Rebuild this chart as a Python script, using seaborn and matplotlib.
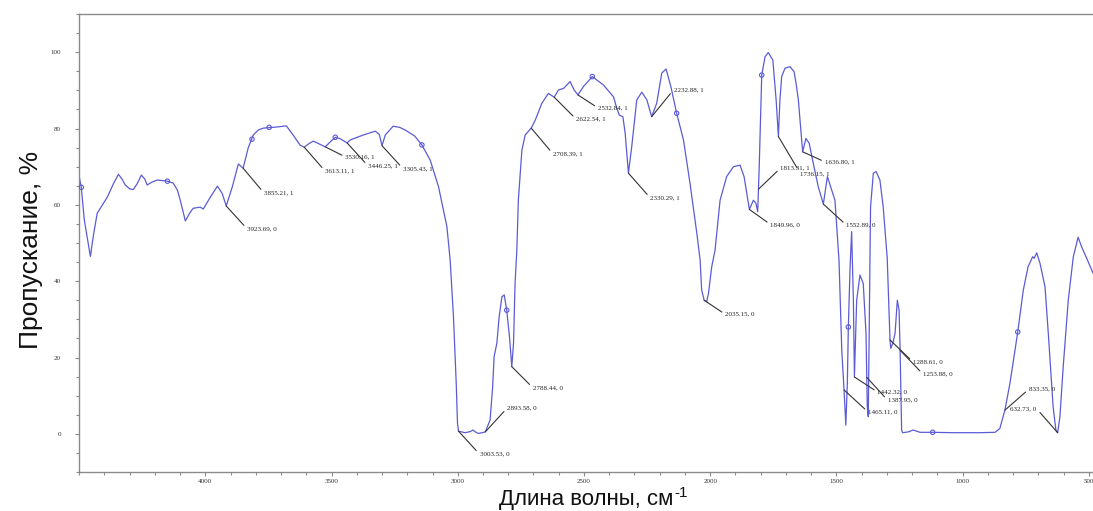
import matplotlib
matplotlib.use("Agg")
import matplotlib.pyplot as plt
import seaborn as sns
import pandas as pd
from matplotlib.ticker import MultipleLocator

# IR spectrum, wavenumber (cm-1) vs transmittance (%)
WAVENUMBER = [
    4499, 4491, 4479, 4455, 4443, 4428, 4388, 4364, 4344, 4330, 4317, 4300,
    4285, 4270, 4253, 4240, 4230, 4210, 4190, 4150, 4127, 4110, 4099, 4079,
    4062, 4048, 4020, 4008, 3980, 3952, 3933, 3917, 3893, 3869, 3850, 3830,
    3810, 3790, 3770, 3715, 3679, 3652, 3624, 3608, 3590, 3572, 3550, 3525,
    3500, 3485, 3465, 3438, 3426, 3374, 3327, 3311, 3300, 3287, 3256, 3230,
    3208, 3170, 3142, 3109, 3076, 3043, 3030, 3017, 3006, 3001, 2997, 2971,
    2950, 2940, 2930, 2918, 2891, 2872, 2862, 2856, 2845, 2836, 2825, 2816,
    2806, 2795, 2786, 2779, 2773, 2766, 2760, 2746, 2733, 2709, 2693, 2667,
    2641, 2618, 2601, 2581, 2555, 2539, 2524, 2502, 2467, 2423, 2383, 2370,
    2360, 2346, 2337, 2324, 2311, 2291, 2271, 2251, 2232, 2212, 2192, 2175,
    2156, 2133, 2106, 2080, 2053, 2040, 2034, 2024, 2014, 2007, 1994, 1981,
    1961, 1935, 1908, 1882, 1866, 1845, 1829, 1819, 1812, 1806, 1796, 1783,
    1770, 1752, 1739, 1730, 1724, 1717, 1704, 1684, 1668, 1660, 1651, 1638,
    1634, 1621, 1608, 1592, 1572, 1552, 1536, 1519, 1506, 1497, 1490, 1479,
    1470, 1463, 1457, 1453, 1446, 1440, 1433, 1429, 1420, 1407, 1394, 1383,
    1378, 1374, 1370, 1367, 1365, 1354, 1343, 1328, 1315, 1299, 1288, 1285,
    1277, 1268, 1259, 1252, 1248, 1242, 1238, 1216, 1196, 1169, 1119, 1037,
    932, 872, 853, 833, 813, 782, 760, 741, 723, 717, 707, 694,
    674, 661, 642, 631, 624, 615, 602, 582, 562, 543, 529, 509,
    484,
]
TRANSMITTANCE = [
    67.3, 64.6, 56.0, 46.5, 52.0, 57.8, 62.0, 65.5, 68.0, 66.8, 65.2, 64.2,
    64.0, 65.5, 67.8, 66.8, 65.2, 66.0, 66.5, 66.2, 65.7, 63.8, 61.2, 55.8,
    57.8, 59.1, 59.4, 58.9, 62.0, 64.9, 63.0, 59.7, 64.7, 70.7, 69.6, 74.9,
    78.3, 79.6, 80.1, 80.4, 80.7, 78.3, 75.6, 75.1, 76.0, 76.7, 76.0, 75.2,
    76.8, 77.7, 77.3, 76.2, 77.0, 78.3, 79.3, 78.5, 75.5, 78.3, 80.6, 80.3,
    79.6, 78.0, 75.7, 71.7, 64.7, 54.3, 45.5, 30.7, 13.2, 2.7, 0.7, 0.3,
    0.6, 1.0, 0.5, 0.1, 0.5, 3.6, 12.0, 20.2, 23.8, 30.7, 35.9, 36.4,
    32.4, 25.4, 17.6, 23.8, 39.5, 48.1, 61.2, 74.3, 78.3, 80.1, 82.2, 86.6,
    89.2, 88.2, 90.1, 90.5, 92.3, 90.1, 88.8, 91.0, 93.6, 91.4, 88.3, 85.3,
    83.5, 83.1, 78.8, 68.3, 75.2, 87.5, 89.5, 87.5, 83.1, 86.6, 94.5, 95.6,
    91.0, 84.0, 77.0, 65.6, 52.5, 45.5, 37.7, 35.0, 34.6, 36.8, 43.8, 48.1,
    61.2, 67.4, 70.0, 70.4, 67.4, 58.8, 61.2, 60.4, 58.2, 70.0, 94.0, 98.8,
    99.9, 97.9, 87.5, 77.9, 87.5, 93.6, 95.8, 96.2, 94.9, 91.8, 87.5, 77.0,
    73.9, 77.4, 76.1, 70.9, 64.7, 60.2, 67.4, 63.9, 61.2, 52.5, 45.5, 21.9,
    11.5, 2.3, 13.2, 28.0, 43.8, 53.0, 35.0, 14.9, 35.0, 41.6, 39.4, 26.3,
    7.1, 4.5, 30.7, 48.1, 59.5, 68.3, 68.7, 66.5, 59.5, 46.0, 24.6, 22.4,
    23.7, 26.3, 35.0, 32.4, 21.9, 1.0, 0.3, 0.5, 1.0, 0.4, 0.4, 0.3,
    0.3, 0.4, 1.4, 6.2, 13.2, 26.7, 37.7, 43.8, 46.4, 46.0, 47.4, 44.7,
    38.5, 26.3, 7.1, 1.0, 0.3, 4.5, 17.6, 35.0, 46.4, 51.5, 49.0, 46.0,
    42.1,
]

# small open circles placed by the instrument software
MARK_WN = [4491, 4150, 3815, 3747, 3485, 3142, 2806, 2467, 2133, 1796, 1453, 1119, 782]
MARK_T = [64.6, 66.2, 77.2, 80.3, 77.7, 75.7, 32.4, 93.6, 84.0, 94.0, 28.0, 0.4, 26.7]

# peak labels: text, anchor wn, anchor T, text offset (px)
PEAK_TEXT = ["3923.69, 0", "3855.21, 1", "3613.11, 1", "3530.16, 1", "3446.25, 1",
             "3305.43, 1", "3003.53, 0", "2893.58, 0", "2788.44, 0", "2708.39, 1",
             "2622.54, 1", "2532.84, 1", "2330.29, 1", "2232.88, 1", "2035.15, 0",
             "1849.96, 0", "1813.31, 1", "1736.15, 1", "1636.80, 1", "1552.89, 0",
             "1465.11, 0", "1442.32, 0", "1387.95, 0", "1288.61, 0", "1253.88, 0",
             "833.35, 0", "632.73, 0"]
PEAK_WN = [3917, 3850, 3608, 3525, 3438, 3300, 2997, 2891, 2786, 2709,
           2618, 2524, 2324, 2232, 2024, 1845, 1809, 1730, 1634, 1552,
           1470, 1429, 1380, 1288, 1248, 833, 624]
PEAK_T = [59.7, 69.6, 75.1, 75.2, 76.2, 75.5, 0.7, 0.5, 17.6, 80.1,
          88.2, 88.8, 68.3, 83.1, 35.0, 58.8, 64.1, 77.9, 73.9, 60.2,
          11.5, 14.9, 14.8, 24.6, 21.9, 6.2, 0.3]
PEAK_DX = [21, 21, 21, 20, 21, 21, 21, 22, 21, 22, 22, 20, 22, 22, 21,
           21, 22, 22, 22, 23, 24, 23, 21, 23, 23, 24, -21]
PEAK_DY = [-23, -25, -24, -10, -23, -23, -23, 24, -21, -26, -22, -13, -25, 27, -14,
           -15, 21, -37, -10, -21, -22, -15, -23, -22, -24, 21, 24]

X_TICKS = [4000, 3500, 3000, 2500, 2000, 1500, 1000, 500]
Y_TICKS = [0, 20, 40, 60, 80, 100]

LINE_COLOR = "#5b5bd6"

df = pd.DataFrame({"wn": WAVENUMBER, "T": TRANSMITTANCE})

sns.set_style("ticks")
plt.rcParams["font.family"] = ["Liberation Sans", "DejaVu Sans"]

fig = plt.figure(figsize=(10.93, 5.11), dpi=100)
ax = fig.add_axes([0.0723, 0.0763, 0.9277, 0.8963])

sns.lineplot(data=df, x="wn", y="T", sort=False, estimator=None,
             color=LINE_COLOR, lw=0.9, ax=ax)
ax.scatter(MARK_WN, MARK_T, s=10, facecolors="none", edgecolors=LINE_COLOR,
           linewidths=0.8, zorder=3)

for txt, wx, ty, dx, dy in zip(PEAK_TEXT, PEAK_WN, PEAK_T, PEAK_DX, PEAK_DY):
    ha = "left" if dx > 0 else "right"
    ax.annotate(txt, xy=(wx, ty), xytext=(dx, dy), textcoords="offset pixels",
                ha=ha, va="center", fontsize=5, family="Liberation Serif",
                color="#222222",
                arrowprops=dict(arrowstyle="-", color="#333333", lw=0.8,
                                shrinkA=0, shrinkB=0,
                                relpos=(0, 0.5) if dx > 0 else (1, 0.5)))

ax.set_xlim(4500, 484)
ax.set_ylim(-10, 110)
ax.set_xticks(X_TICKS)
ax.set_yticks(Y_TICKS)
ax.xaxis.set_minor_locator(MultipleLocator(100))
ax.yaxis.set_minor_locator(MultipleLocator(5))

for side in ["left", "bottom", "top"]:
    ax.spines[side].set_color("#8a8a8a")
    ax.spines[side].set_linewidth(1.0)
ax.spines["right"].set_visible(False)

ax.tick_params(axis="both", which="both", direction="out", colors="#8a8a8a",
               labelcolor="#333333", width=0.8)
ax.tick_params(axis="both", which="major", length=3, labelsize=5)
ax.tick_params(axis="both", which="minor", length=2.5)
ax.tick_params(axis="y", which="major", pad=10)
ax.tick_params(axis="x", which="major", pad=2)
for lab in ax.get_xticklabels() + ax.get_yticklabels():
    lab.set_family("Liberation Serif")

# x label with the "-1" exponent as a separate raised text
ax.set_xlabel("Длина волны, см", fontsize=16, color="#111111", va="bottom")
ax.xaxis.set_label_coords(0.50, -0.082)
ax.annotate("-1", xy=(1, 1), xycoords=ax.xaxis.label, xytext=(1, 1.5),
            textcoords="offset points", ha="left", va="top",
            fontsize=11, color="#111111")

ax.set_ylabel("Пропускание, %", fontsize=19, color="#111111")
ax.yaxis.set_label_coords(-0.036, 0.485)

fig.savefig("out.png", dpi=100)
